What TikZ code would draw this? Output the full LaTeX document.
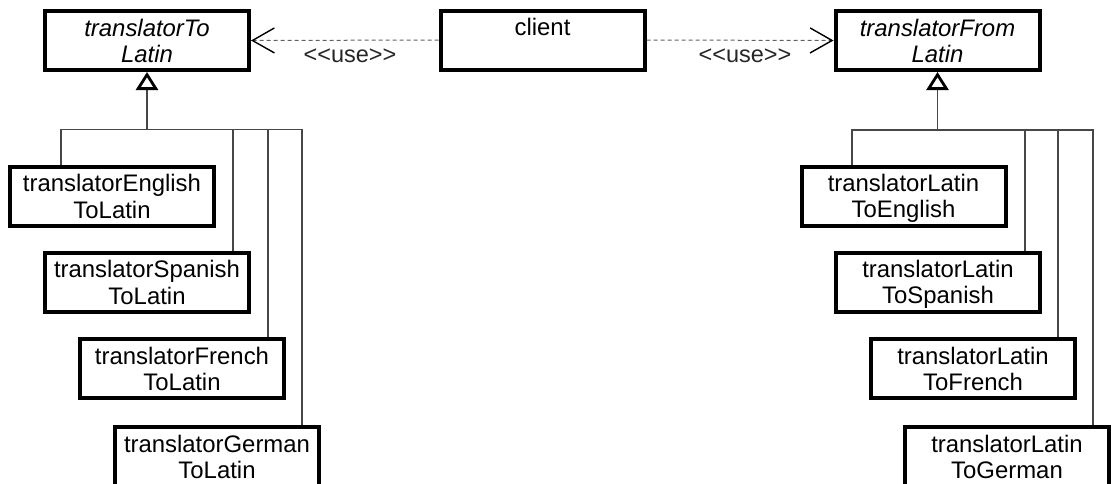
\documentclass[tikz,border=0pt]{standalone}
\usepackage{fontspec}
\setmainfont{Liberation Sans}
\usetikzlibrary{arrows.meta}
\newcommand{\bxs}{\rule[-4.5pt]{0pt}{26pt}}
\newcommand{\usetxt}{<\kern0pt<\kern0pt use\kern0pt>\kern0pt>}
\begin{document}
\begin{tikzpicture}[x=1pt,y=-1pt,
  cls/.style={draw=black, line width=4pt, minimum width=204pt, minimum height=59pt, inner sep=0pt, align=center, font=\fontsize{23.9}{26}\selectfont},
  abscls/.style={cls, font=\fontsize{23.9}{26}\selectfont\itshape},
  usedep/.style={draw=black!62, line width=1pt, dash pattern=on 4pt off 3pt, -{Straight Barb[length=22pt,width=25pt,line width=1.4pt,color=black]}},
  gen/.style={draw=black!72, line width=1.1pt},
  genhead/.style={gen, -{Triangle[open,length=18pt,width=22pt,line width=2.8pt,color=black]}},
  lbl/.style={font=\fontsize{23.5}{26}\selectfont, inner sep=0pt, anchor=base, text=black!85}
]
\useasboundingbox (0,0) rectangle (1115,483);

% top row
\node[abscls] (tl) at (147,40.5) {\bxs translatorTo\\\bxs Latin};
\node[cls] (cl) at (542.5,40) {\bxs client\\\bxs};
\node[abscls] (tf) at (937.5,40.5) {\bxs translatorFrom\\\bxs Latin};

% left children
\node[cls] (el) at (112,196.5) {\bxs translatorEnglish\\\bxs ToLatin};
\node[cls] (sl) at (147,282.5) {\bxs translatorSpanish\\\bxs ToLatin};
\node[cls] (fl) at (182,368.5) {\bxs translatorFrench\\\bxs ToLatin};
\node[cls] (gl) at (217,456.5) {\bxs translatorGerman\\\bxs ToLatin};

% right children
\node[cls] (er) at (903.5,196.5) {\bxs translatorLatin\\\bxs ToEnglish};
\node[cls] (sr) at (938,282.5) {\bxs translatorLatin\\\bxs ToSpanish};
\node[cls] (fr) at (973,368.5) {\bxs translatorLatin\\\bxs ToFrench};
\node[cls] (gr) at (1007,456.5) {\bxs translatorLatin\\\bxs ToGerman};

% use dependencies
\draw[usedep] (cl.west) -- (tl.east);
\draw[usedep] (cl.east) -- (tf.west);
\node[lbl] (u1) at (350,62) {\usetxt};
\node[lbl] (u2) at (745,62) {\usetxt};

% left generalization
\coordinate (lb) at (147,129.5);
\coordinate (eld) at ([xshift=-51pt]el.north);
\coordinate (sld) at ([xshift=86pt]sl.north);
\coordinate (fld) at ([xshift=86pt]fl.north);
\coordinate (gld) at ([xshift=85pt]gl.north);
\draw[gen] (eld) |- (gld |- lb) -- (gld);
\draw[gen] (sld) -- (sld |- lb);
\draw[gen] (fld) -- (fld |- lb);
\draw[genhead] (lb) -- (tl.south);

% right generalization
\coordinate (rb) at (937.5,130);
\coordinate (erd) at ([xshift=-51.5pt]er.north);
\coordinate (srd) at ([xshift=87pt]sr.north);
\coordinate (frd) at ([xshift=85pt]fr.north);
\coordinate (grd) at ([xshift=86pt]gr.north);
\draw[gen] (erd) |- (grd |- rb) -- (grd);
\draw[gen] (srd) -- (srd |- rb);
\draw[gen] (frd) -- (frd |- rb);
\draw[genhead] (rb) -- (tf.south);
\end{tikzpicture}
\end{document}
